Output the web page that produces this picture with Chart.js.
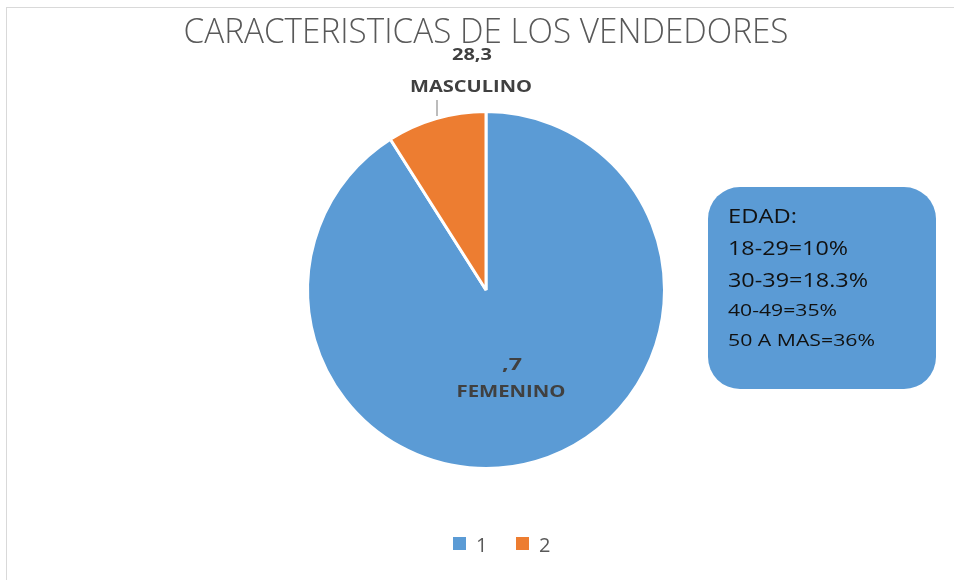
<!DOCTYPE html>
<html>
<head>
<meta charset="utf-8">
<script src="https://cdn.jsdelivr.net/npm/chart.js@4"></script>
<style>
body{margin:0;background:#fff;}
#wrap{position:relative;width:954px;height:580px;}
#frame{position:absolute;left:6px;top:7px;right:-2px;bottom:-2px;border-left:1px solid #d9d9d9;border-top:1px solid #d9d9d9;}
canvas{position:absolute;left:0;top:0;}
</style>
</head>
<body>
<div id="wrap"><div id="frame"></div><canvas id="pieChart" width="954" height="580"></canvas></div>
<script>

const categories = ["1","2"]
const values = [91, 9]
const sliceNames = ["FEMENINO","MASCULINO"]
const sliceValueText = [",7","28,3"]
const colors = ["#5B9BD5","#ED7D31"]
const titleText = "CARACTERISTICAS DE LOS VENDEDORES"
const boxLines = ["EDAD:","18-29=10%","30-39=18.3%","40-49=35%","50 A MAS=36%"]

const FONT = "'Open Sans', sans-serif"

// draw text with a given font size, squeezed/stretched to a target width
function drawFit(ctx, text, x, y, size, weight, width, align){
  ctx.font = weight + " " + size + "px " + FONT
  let w = ctx.measureText(text).width
  let sx = width / w
  ctx.save()
  ctx.textAlign = "left"
  ctx.textBaseline = "middle"
  let left = align == "center" ? x - width / 2 : x
  ctx.translate(left, y)
  ctx.scale(sx, 1)
  ctx.fillText(text, 0, 0)
  ctx.restore()
}

const extras = {
  id: "extras",
  afterDraw(chart){
    const ctx = chart.ctx
    ctx.save()

    // title
    ctx.fillStyle = "#595959"
    drawFit(ctx, titleText, 486, 33, 34, "300", 605, "center")

    // slice labels
    ctx.fillStyle = "#404040"
    drawFit(ctx, sliceValueText[1], 472, 55, 16, "bold", 40, "center")
    drawFit(ctx, sliceNames[1], 471, 87, 16, "bold", 122, "center")
    ctx.strokeStyle = "#a6a6a6"
    ctx.lineWidth = 1.5
    ctx.beginPath()
    ctx.moveTo(437, 100)
    ctx.lineTo(437, 116)
    ctx.stroke()

    drawFit(ctx, sliceValueText[0], 512, 365, 16, "bold", 20, "center")
    drawFit(ctx, sliceNames[0], 511, 392, 16, "bold", 109, "center")

    // age box
    ctx.fillStyle = "#5B9BD5"
    ctx.beginPath()
    ctx.roundRect(708, 187, 228, 202, 32)
    ctx.fill()
    ctx.fillStyle = "#111"
    const ys = [217, 249, 281, 311, 341]
    const sz = [20, 20, 20, 17, 17]
    const ws = [69, 120, 140, 109, 147]
    boxLines.forEach((t,i)=>{
      drawFit(ctx, t, 728, ys[i], sz[i], "normal", ws[i], "left")
    })

    // legend
    ctx.font = "20px " + FONT
    ctx.textAlign = "left"
    ctx.textBaseline = "middle"
    const lx = [453, 516]
    categories.forEach((c,i)=>{
      ctx.fillStyle = colors[i]
      ctx.fillRect(lx[i], 537, 13, 13)
      ctx.fillStyle = "#595959"
      ctx.fillText(c, lx[i] + 23, 546)
    })

    ctx.restore()
  }
}

new Chart(document.getElementById("pieChart"),{
  type:"pie",
  data:{
    labels:categories,
    datasets:[{
      data:values,
      backgroundColor:colors,
      borderColor:"#fff",
      borderWidth:3
    }]
  },
  options:{
    responsive:false,
    animation:false,
    layout:{padding:{top:110,bottom:110,left:18,right:0}},
    plugins:{
      legend:{display:false},
      tooltip:{enabled:false}
    }
  },
  plugins:[extras]
})
</script>
</body>
</html>
